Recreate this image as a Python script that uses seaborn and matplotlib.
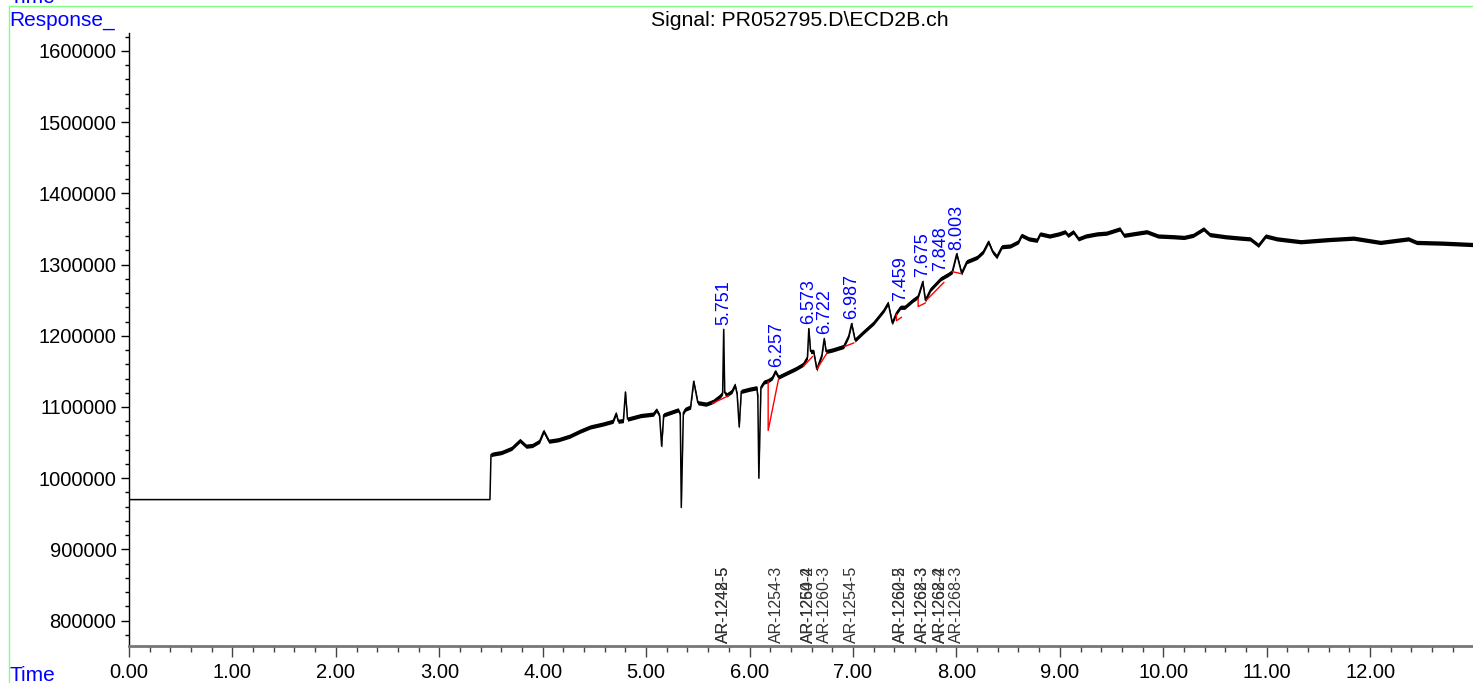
import numpy as np
import pandas as pd
import matplotlib
matplotlib.use("Agg")
import matplotlib.pyplot as plt
import matplotlib.ticker as mticker
import seaborn as sns

# chromatogram trace (time in min, response)
trace_time = [0.00, 3.49, 3.50, 3.52, 3.60, 3.70, 3.78, 3.84, 3.90, 3.97, 4.01, 4.06, 4.15, 4.26,
              4.36, 4.46, 4.58, 4.68, 4.71, 4.73, 4.78, 4.80, 4.82, 4.95, 5.07, 5.10, 5.13, 5.15,
              5.17, 5.25, 5.31, 5.33, 5.34, 5.36, 5.38, 5.43, 5.46, 5.50, 5.58, 5.65, 5.72, 5.74,
              5.75, 5.76, 5.78, 5.83, 5.86, 5.88, 5.90, 5.92, 6.00, 6.07, 6.08, 6.09, 6.11, 6.14,
              6.18, 6.22, 6.25, 6.28, 6.35, 6.45, 6.52, 6.56, 6.573, 6.59, 6.62, 6.65, 6.70, 6.722,
              6.74, 6.80, 6.91, 6.96, 6.987, 7.02, 7.10, 7.20, 7.30, 7.34, 7.38, 7.42, 7.459, 7.50,
              7.58, 7.63, 7.675, 7.70, 7.75, 7.848, 7.92, 7.96, 8.003, 8.05, 8.10, 8.20, 8.26, 8.31,
              8.35, 8.39, 8.44, 8.52, 8.60, 8.63, 8.70, 8.78, 8.81, 8.90, 8.99, 9.05, 9.08, 9.13,
              9.18, 9.25, 9.36, 9.45, 9.58, 9.62, 9.75, 9.84, 9.95, 10.10, 10.20, 10.29, 10.39,
              10.45, 10.60, 10.75, 10.84, 10.92, 10.99, 11.10, 11.33, 11.60, 11.84, 12.10, 12.37,
              12.45, 12.70, 13.00]
trace_resp = [970000, 970000, 1033000, 1034000, 1036000, 1042000, 1053000, 1045000, 1046000,
              1052000, 1066000, 1052000, 1054000, 1059000, 1066000, 1072000, 1076000, 1080000,
              1091000, 1080000, 1081000, 1121000, 1083000, 1088000, 1090000, 1096000, 1088000,
              1045000, 1089000, 1093000, 1096000, 1090000, 959000, 1092000, 1097000, 1100000,
              1136000, 1106000, 1104000, 1108000, 1116000, 1120000, 1209000, 1120000, 1117000,
              1122000, 1131000, 1118000, 1072000, 1122000, 1125000, 1127000, 1115000, 1000000,
              1128000, 1135000, 1137000, 1141000, 1150000, 1142000, 1147000, 1154000, 1160000,
              1170000, 1210000, 1178000, 1178000, 1153000, 1173000, 1196000, 1178000, 1180000,
              1185000, 1200000, 1217000, 1194000, 1205000, 1218000, 1236000, 1246000, 1218000,
              1232000, 1240000, 1240000, 1250000, 1255000, 1276000, 1250000, 1265000, 1280000,
              1286000, 1290000, 1315000, 1288000, 1304000, 1310000, 1318000, 1332000, 1318000,
              1311000, 1325000, 1326000, 1332000, 1341000, 1336000, 1334000, 1343000, 1340000,
              1343000, 1346000, 1341000, 1346000, 1336000, 1340000, 1343000, 1344000, 1350000,
              1341000, 1344000, 1346000, 1340000, 1339000, 1338000, 1341000, 1350000, 1342000,
              1339000, 1337000, 1336000, 1327000, 1340000, 1336000, 1332000, 1335000, 1337000,
              1331000, 1336000, 1331000, 1330000, 1328000]

# integrated peaks
peak_rt = [5.751, 6.257, 6.573, 6.722, 6.987, 7.459, 7.675, 7.848, 8.003]
peak_height = [1209000, 1150000, 1210000, 1197000, 1217000, 1243000, 1276000, 1285000, 1315000]

# compound names at each peak (overlapping names drawn on top of each other)
compound_names = [["AR-1242-5", "AR-1248-5"], ["AR-1254-3"], ["AR-1260-2", "AR-1254-4"],
                  ["AR-1260-3"], ["AR-1254-5"], ["AR-1260-5", "AR-1262-2"],
                  ["AR-1268-3", "AR-1262-3"], ["AR-1262-4", "AR-1268-2"], ["AR-1268-3"]]

# integration baselines (red)
baseline_time = [[5.64, 5.80], [6.18, 6.18, 6.28], [6.52, 6.61], [6.65, 6.75], [6.92, 7.01],
                 [7.42, 7.42, 7.47], [7.63, 7.63, 7.70], [7.71, 7.88], [7.96, 8.05]]
baseline_resp = [[1105000, 1116000], [1136000, 1067000, 1139000], [1157000, 1171000],
                 [1153000, 1176000], [1185000, 1190000], [1230000, 1221000, 1226000],
                 [1252000, 1241000, 1246000], [1250000, 1275000], [1290000, 1287000]]

sns.set_theme(style="white")
plt.rcParams["font.family"] = ["Liberation Sans", "DejaVu Sans"]
plt.rcParams["text.color"] = "black"
plt.rcParams["xtick.labelcolor"] = "black"
plt.rcParams["ytick.labelcolor"] = "black"

fig = plt.figure(figsize=(14.73, 6.83), dpi=100)
ax = fig.add_axes([129 / 1473, 1 - 646 / 683, 1 - 129 / 1473, (646 - 33) / 683])

df = pd.DataFrame({"Time": trace_time, "Response": trace_resp})
# noise band of the signal
noisy = df[df["Time"] >= 3.5]
ax.fill_between(noisy["Time"], noisy["Response"] - 3000, noisy["Response"] + 3000,
                color="black", lw=0)
sns.lineplot(data=df, x="Time", y="Response", sort=False, estimator=None,
             color="black", lw=1.1, ax=ax)

for bt, br in zip(baseline_time, baseline_resp):
    sns.lineplot(x=bt, y=br, sort=False, estimator=None, color="red", lw=1, ax=ax)

for rt, h in zip(peak_rt, peak_height):
    ax.text(rt, h + 6000, f"{rt:.3f}", rotation=90, ha="center", va="bottom",
            color="blue", fontsize=13)

trans = matplotlib.transforms.blended_transform_factory(ax.transData, ax.transAxes)
for rt, names in zip(peak_rt, compound_names):
    for nm in names:
        ax.text(rt, 0.005, nm, rotation=90, ha="center", va="bottom", transform=trans,
                color="#333333", fontsize=11.5)

ax.set_xlim(0, 12.995)
ax.set_ylim(764500, 1625000)
ax.set_xlabel("")
ax.set_ylabel("")

ax.xaxis.set_major_locator(mticker.MultipleLocator(1.0))
ax.xaxis.set_minor_locator(mticker.MultipleLocator(0.2))
ax.xaxis.set_major_formatter(mticker.FormatStrFormatter("%.2f"))
ax.yaxis.set_major_locator(mticker.MultipleLocator(100000))
ax.yaxis.set_minor_locator(mticker.MultipleLocator(20000))
ax.yaxis.set_major_formatter(mticker.FormatStrFormatter("%d"))

ax.tick_params(axis="x", which="major", direction="out", length=8, width=1, color="#444444",
               labelsize=14.5, pad=4, bottom=True)
ax.tick_params(axis="x", which="minor", direction="out", length=4, width=1, color="#444444",
               bottom=True)
ax.tick_params(axis="y", which="major", direction="out", length=6, width=1, color="black",
               labelsize=14.5, pad=3, left=True)
ax.tick_params(axis="y", which="minor", direction="out", length=3, width=1, color="black",
               left=True)

for s in ["top", "right"]:
    ax.spines[s].set_visible(False)
ax.spines["left"].set_color("black")
ax.spines["left"].set_linewidth(1)
ax.spines["bottom"].set_color("#777777")
ax.spines["bottom"].set_linewidth(2)

fig.text(800 / 1473, 1 - 20 / 683, "Signal: PR052795.D\\ECD2B.ch", ha="center", va="center",
         fontsize=15.3, color="black")
fig.text(9 / 1473, 1 - 26 / 683, "Response_", ha="left", va="baseline", color="blue",
         fontsize=15)
fig.text(9 / 1473, 1 - 681 / 683, "Time", ha="left", va="baseline", color="blue", fontsize=15)
fig.text(9 / 1473, 1 - 3 / 683, "Time", ha="left", va="baseline", color="blue", fontsize=15)

# green frame
fig.add_artist(plt.Line2D([8.5 / 1473, 1], [1 - 6 / 683, 1 - 6 / 683], color="#80ff80", lw=1,
                          transform=fig.transFigure))
fig.add_artist(plt.Line2D([8.5 / 1473, 8.5 / 1473], [0, 1 - 6 / 683], color="#80ff80", lw=1,
                          transform=fig.transFigure))

fig.savefig("out.png", dpi=100)
